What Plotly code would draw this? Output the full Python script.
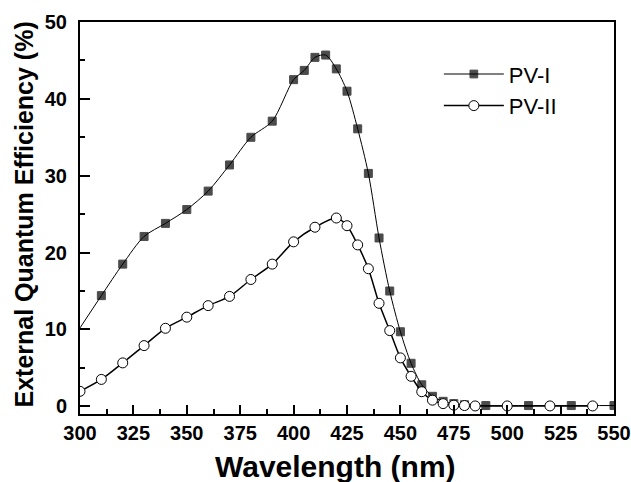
import plotly.graph_objects as go

# PV-I (filled squares)
wl_1 = [300, 310, 320, 330, 340, 350, 360, 370, 380, 390, 400, 405, 410, 415, 420,
        425, 430, 435, 440, 445, 450, 455, 460, 465, 470, 475, 480, 490, 510, 530, 550]
eqe_1 = [10.2, 14.4, 18.5, 22.1, 23.8, 25.6, 28.0, 31.4, 35.0, 37.1, 42.5, 43.7, 45.4, 45.7, 43.9,
         41.0, 36.1, 30.3, 21.9, 15.0, 9.7, 5.6, 2.8, 1.3, 0.65, 0.35, 0.2, 0.1, 0.1, 0.1, 0.1]

# PV-II (open circles)
wl_2 = [300, 310, 320, 330, 340, 350, 360, 370, 380, 390, 400, 410, 420, 425, 430,
        435, 440, 445, 450, 455, 460, 465, 470, 475, 480, 485, 500, 520, 540]
eqe_2 = [1.95, 3.5, 5.65, 7.9, 10.15, 11.6, 13.1, 14.3, 16.5, 18.5, 21.4, 23.3, 24.5, 23.5, 21.0,
         17.9, 13.4, 9.85, 6.3, 3.9, 1.9, 0.8, 0.35, 0.15, 0.1, 0.05, 0.05, 0.05, 0.05]

x_ticks = [300, 325, 350, 375, 400, 425, 450, 475, 500, 525, 550]
y_ticks = [0, 10, 20, 30, 40, 50]

x_title = "Wavelength (nm)"
y_title = "External Quantum Efficiency (%)"

FONT = "Liberation Sans, Arial, sans-serif"

fig = go.Figure()
fig.add_trace(go.Scatter(
    x=wl_1, y=eqe_1, name="PV-I", mode="lines+markers",
    line=dict(color="black", width=1, shape="spline", smoothing=0.8),
    marker=dict(symbol="square", size=[0] + [8] * (len(wl_1) - 1), color="black",
                line=dict(color="black", width=1)),
))
fig.add_trace(go.Scatter(
    x=wl_2, y=eqe_2, name="PV-II", mode="lines+markers",
    line=dict(color="black", width=1.5, shape="spline", smoothing=0.8),
    marker=dict(symbol="circle", size=10, color="white",
                line=dict(color="black", width=1)),
))

axis_font = dict(family=FONT, size=20, color="black")
fig.update_layout(
    width=631, height=482,
    margin=dict(l=80, r=17, t=22, b=68),
    paper_bgcolor="white", plot_bgcolor="white",
    font=dict(family=FONT, color="black"),
    legend=dict(x=0.672, y=0.826, xanchor="left", yanchor="middle",
                font=dict(size=22, family=FONT), itemwidth=60,
                bgcolor="rgba(0,0,0,0)", tracegroupgap=0),
    showlegend=True,
    annotations=[
        dict(text=f"<b>{x_title}</b>", xref="paper", yref="paper",
             x=0.479, y=-0.1327, xanchor="center", yanchor="middle",
             showarrow=False, font=dict(size=30, family=FONT, color="black")),
        dict(text=f"<b>{y_title}</b>", xref="paper", yref="paper",
             x=-0.1058, y=0.5077, xanchor="center", yanchor="middle", textangle=-90,
             showarrow=False, font=dict(size=25, family=FONT, color="black")),
    ],
)
fig.update_xaxes(
    range=[300, 550], tickvals=x_ticks, ticktext=[f"<b>{v}</b>" for v in x_ticks],
    ticks="inside", ticklen=9, tickwidth=2, tickcolor="black",
    minor=dict(dtick=12.5, ticks="inside", ticklen=5, tickwidth=2, tickcolor="black"),
    showline=True, linewidth=2, linecolor="black", mirror=True,
    showgrid=False, zeroline=False, tickfont=axis_font, automargin=False,
)
fig.update_yaxes(
    range=[-1, 50], tickvals=y_ticks, ticktext=[f"<b>{v}</b>" for v in y_ticks],
    ticks="inside", ticklen=10, tickwidth=2, tickcolor="black",
    minor=dict(tickvals=[5, 15, 25, 35, 45], ticks="inside", ticklen=5, tickwidth=2, tickcolor="black"),
    showline=True, linewidth=2, linecolor="black", mirror=True,
    showgrid=False, zeroline=False, tickfont=axis_font, automargin=False,
    ticklabelstandoff=7,
)

fig.write_html("out.html", config={"displayModeBar": False},
               post_script="document.body.style.margin='0';")
